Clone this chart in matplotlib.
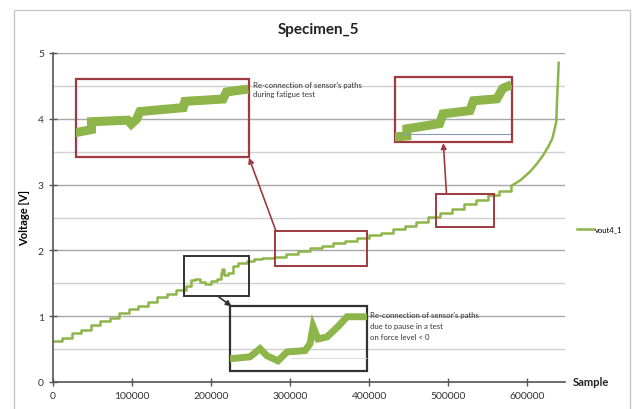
import matplotlib.pyplot as plt
from matplotlib.patches import Rectangle
import numpy as np

plt.rcParams['font.family'] = ['Lato', 'DejaVu Sans']

# sensor output over the whole fatigue test
sample = [0, 12000, 24000, 36000, 48000, 60000, 72000, 84000, 96000, 108000,
          120000, 132000, 144000, 156000, 168000, 175000, 180000, 186000, 192000,
          200000, 207000, 212000, 214000, 217000, 222000, 228000, 234000, 245000,
          255000, 265000, 280000, 295000, 310000, 325000, 340000, 355000, 370000,
          385000, 400000, 415000, 430000, 445000, 460000, 475000, 490000, 505000,
          520000, 535000, 550000, 565000, 580000, 592000, 604000, 612000, 620000,
          627000, 632000, 635000, 637000, 638000, 639000, 640000]
voltage = [0.62, 0.67, 0.74, 0.79, 0.86, 0.93, 0.98, 1.05, 1.11, 1.16,
           1.22, 1.29, 1.34, 1.40, 1.46, 1.55, 1.57, 1.52, 1.49,
           1.53, 1.57, 1.66, 1.72, 1.62, 1.65, 1.76, 1.81, 1.84,
           1.87, 1.89, 1.90, 1.95, 1.99, 2.03, 2.07, 2.11, 2.15,
           2.19, 2.23, 2.27, 2.32, 2.37, 2.43, 2.51, 2.57, 2.63,
           2.70, 2.77, 2.84, 2.91, 2.98, 3.07, 3.20, 3.31, 3.44,
           3.58, 3.70, 3.85, 3.96, 4.30, 4.55, 4.85]

# zoomed details (normalised inside each callout box)
fatigue_x = [0.02, 0.09, 0.09, 0.30, 0.32, 0.35, 0.37, 0.62, 0.63, 0.85, 0.87, 0.97]
fatigue_y = [0.32, 0.35, 0.45, 0.47, 0.42, 0.48, 0.58, 0.63, 0.71, 0.74, 0.83, 0.86]
end_x = [0.03, 0.10, 0.10, 0.38, 0.41, 0.64, 0.67, 0.87, 0.92, 0.96]
end_y = [0.08, 0.09, 0.20, 0.28, 0.43, 0.48, 0.63, 0.66, 0.82, 0.85]
pause_x = [0.0, 0.146, 0.219, 0.27, 0.35, 0.416, 0.547, 0.584, 0.606, 0.642, 0.708, 0.788, 0.854, 1.0]
pause_y = [0.185, 0.215, 0.34, 0.23, 0.154, 0.29, 0.31, 0.415, 0.68, 0.49, 0.52, 0.68, 0.83, 0.83]

green = '#8db54a'
darkred = '#9e3a40'

fig = plt.figure(figsize=(6.37, 4.10), dpi=100)
fig.patches.append(Rectangle((14 / 637, -0.01), 616 / 637, 1 - 11 / 410 + 0.01,
                             transform=fig.transFigure, fill=False,
                             edgecolor='#c8c8c8', linewidth=1))

ax = fig.add_axes([53 / 637, 27 / 410, 512 / 637, 329 / 410])
ax.set_xlim(0, 648000)
ax.set_ylim(0, 5)

ax.spines['top'].set_visible(False)
ax.spines['right'].set_visible(False)
for s in ['left', 'bottom']:
    ax.spines[s].set_color('#555555')
    ax.spines[s].set_linewidth(1.2)

ax.set_yticks([0, 1, 2, 3, 4, 5])
ax.set_yticks(np.arange(0.5, 5, 1.0), minor=True)
ax.set_xticks([0, 100000, 200000, 300000, 400000, 500000, 600000])
ax.tick_params(which='major', direction='inout', length=6, width=1, color='#555555',
               labelsize=7.5, labelcolor='#333333')
ax.tick_params(which='minor', length=0)
ax.yaxis.grid(True, which='major', color='#a8a8a8', linewidth=1)
ax.yaxis.grid(True, which='minor', color='#d0d0d0', linewidth=1)
ax.set_axisbelow(True)

# stepped part of the record, then the smooth run-away at the end
k = sample.index(580000)
line, = ax.plot(sample[:k + 1], voltage[:k + 1], color=green, linewidth=1.8,
                drawstyle='steps-post', label='vout4_1')
ax.plot(sample[k:], voltage[k:], color=green, linewidth=1.8)

fig.text(318 / 637, 1 - 30 / 410, 'Specimen_5', ha='center', va='center',
         fontsize=11, fontweight='bold', color='#222222')
ax.set_ylabel('Voltage [V]', fontsize=8, fontweight='bold', labelpad=6)
ax.text(1.015, 0.0, 'Sample', transform=ax.transAxes, ha='left', va='center',
        fontsize=8, fontweight='bold', color='#222222')

ax.legend(handles=[line], loc='center left', bbox_to_anchor=(1.01, 0.465),
          frameon=False, fontsize=5.5, handlelength=2.2, handletextpad=0.2)


def callout(src, dst, color, xs, ys, lw, arrow_from, arrow_to):
    # source box on the curve, enlarged box and the connecting arrow
    x0, x1, y0, y1 = src
    ax.add_patch(Rectangle((x0, y0), x1 - x0, y1 - y0, fill=False,
                           edgecolor=color, linewidth=1.4, zorder=4))
    X0, X1, Y0, Y1 = dst
    ax.add_patch(Rectangle((X0, Y0), X1 - X0, Y1 - Y0, fill=False,
                           edgecolor=color, linewidth=1.6, zorder=4))
    ins = ax.inset_axes([X0, Y0, X1 - X0, Y1 - Y0], transform=ax.transData)
    ins.set_xlim(0, 1)
    ins.set_ylim(0, 1)
    ins.patch.set_alpha(0)
    ins.axis('off')
    ins.plot(xs, ys, color=green, linewidth=lw, solid_joinstyle='miter')
    ax.annotate('', xy=arrow_to, xytext=arrow_from,
                arrowprops=dict(arrowstyle='-|>', color=color, linewidth=1.2,
                                mutation_scale=8, shrinkA=0, shrinkB=0), zorder=5)
    return ins


callout((281000, 397000, 1.77, 2.30), (29000, 248000, 3.42, 4.61), darkred,
        fatigue_x, fatigue_y, 6.5, (282000, 2.30), (248000, 3.41))
ins2 = callout((485000, 558000, 2.36, 2.86), (433000, 581000, 3.65, 4.64), darkred,
               end_x, end_y, 6.5, (498000, 2.86), (494000, 3.63))
ins2.plot([0.05, 0.98], [0.12, 0.12], color='#8a97b5', linewidth=0.8)
ins3 = callout((166000, 248000, 1.31, 1.92), (224000, 397500, 0.17, 1.16), '#333333',
               pause_x, pause_y, 5, (208000, 1.31), (226000, 1.15))
ins3.plot([0.45, 1.0], [0.2, 0.2], color='#dddddd', linewidth=0.8)

ax.text(253000, 4.45, "Re-connection of sensor's paths\nduring fatigue test",
        fontsize=5.6, va='center', ha='left', color='#333333', linespacing=1.4)
ax.text(401000, 0.86, "Re-connection of sensor's paths\ndue to pause in a test\non force level < 0",
        fontsize=5.6, va='center', ha='left', color='#333333', linespacing=1.6)

fig.savefig('out.png', dpi=100)
